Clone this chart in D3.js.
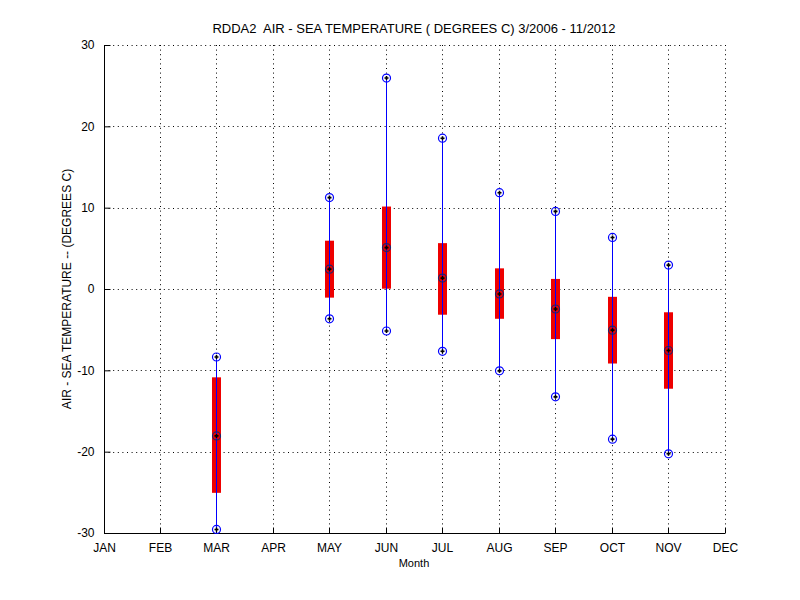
<!DOCTYPE html>
<html><head><meta charset="utf-8">
<script src="https://cdn.jsdelivr.net/npm/d3@7"></script>
<style>body{margin:0;background:#fff;}text{font-family:"Liberation Sans",Arial,sans-serif;}</style>
</head><body><svg id="c" width="800" height="600"></svg>
<script>
const months = ["JAN","FEB","MAR","APR","MAY","JUN","JUL","AUG","SEP","OCT","NOV","DEC"];
const dataMonths = ["MAR","MAY","JUN","JUL","AUG","SEP","OCT","NOV"];
const maxVals = [-8.3, 11.3, 26.0, 18.6, 11.9, 9.6, 6.4, 3.0];
const q3Vals  = [-10.8, 6.0, 10.2, 5.7, 2.6, 1.3, -0.9, -2.8];
const medVals = [-18.0, 2.5, 5.15, 1.4, -0.55, -2.4, -5.0, -7.5];
const q1Vals  = [-25.0, -1.0, 0.1, -3.1, -3.6, -6.1, -9.1, -12.2];
const minVals = [-29.5, -3.6, -5.1, -7.6, -10.0, -13.2, -18.4, -20.2];
const yTicks = [-30,-20,-10,0,10,20,30];

const svg = d3.select("#c");
const L=104, R=725, T=45, B=533;
const x0 = d3.scalePoint().domain(months).range([L,R]);
const x = d => Math.floor(x0(d)) + 0.5;
const y0 = d3.scaleLinear().domain([-30,30]).range([B,T]);
const y = d3.scaleLinear().domain([-30,30]).range([B+0.5,T+0.5]);
const yr = v => Math.round(y0(v)) + 0.5;

// grid
const g = svg.append("g");
g.selectAll(".gx").data(months.slice(1)).enter().append("line")
 .attr("x1",d=>x(d)).attr("x2",d=>x(d)).attr("y1",T).attr("y2",B)
 .attr("stroke","#000").attr("stroke-width",1).attr("stroke-dasharray","1,3.6");
g.selectAll(".gy").data(yTicks.slice(1)).enter().append("line")
 .attr("x1",L).attr("x2",R).attr("y1",d=>yr(d)).attr("y2",d=>yr(d))
 .attr("stroke","#000").attr("stroke-width",1).attr("stroke-dasharray","1,3.6");

// axes
const xa = svg.append("g").attr("transform",`translate(0,${B+0.5})`)
 .call(d3.axisBottom(x0).tickSizeInner(-6).tickSizeOuter(0).tickPadding(10).offset(0));
xa.selectAll(".tick").attr("transform",d=>`translate(${x(d)},0)`);
const ya = svg.append("g").attr("transform",`translate(${L+0.5},0.5)`)
 .call(d3.axisLeft(y0).tickValues(yTicks).tickFormat(d=>String(d)).tickSizeInner(-6).tickSizeOuter(0).tickPadding(10).offset(0));
[xa,ya].forEach(a=>{a.select(".domain").attr("stroke","#000");a.selectAll(".tick line").attr("stroke","#000");
 a.selectAll("text").attr("font-size",12).attr("fill","#000").style("font-family","Liberation Sans, Arial, sans-serif");});

const data = dataMonths.map((m,i)=>({m,max:maxVals[i],q3:q3Vals[i],med:medVals[i],q1:q1Vals[i],min:minVals[i]}));
const blue="#0000ff";
const gb = svg.append("g");
gb.selectAll(".bx").data(data).enter().append("rect")
 .attr("x",d=>x(d.m)-4.5).attr("width",9).attr("y",d=>y(d.q3)).attr("height",d=>y(d.q1)-y(d.q3))
 .attr("fill","#ee0000");
gb.selectAll(".wh").data(data).enter().append("line")
 .attr("x1",d=>x(d.m)).attr("x2",d=>x(d.m)).attr("y1",d=>y(d.max)).attr("y2",d=>y(d.min))
 .attr("stroke",blue).attr("stroke-width",1);
function marker(key,col){
 gb.selectAll(".mk"+key).data(data).enter().append("circle")
  .attr("cx",d=>x(d.m)).attr("cy",d=>y(d[key])).attr("r",4)
  .attr("fill","none").attr("stroke",col).attr("stroke-width",1.2);
 gb.selectAll(".dt"+key).data(data).enter().append("path")
  .attr("d",d=>`M${x(d.m)-2},${y(d[key])}h4M${x(d.m)},${y(d[key])-2}v4`)
  .attr("stroke","#000").attr("stroke-width",1.6);
}
marker("max",blue); marker("min",blue); marker("med","#222266");

svg.append("text").attr("x",414).attr("y",33).attr("text-anchor","middle").attr("font-size",13)
 .style("white-space","pre").text("RDDA2  AIR - SEA TEMPERATURE ( DEGREES C) 3/2006 - 11/2012");
svg.append("text").attr("x",414).attr("y",567).attr("text-anchor","middle").attr("font-size",11).text("Month");
svg.append("text").attr("transform","translate(71,289) rotate(-90)").attr("text-anchor","middle").attr("font-size",12)
 .text("AIR - SEA TEMPERATURE -- (DEGREES C)");
</script></body></html>
